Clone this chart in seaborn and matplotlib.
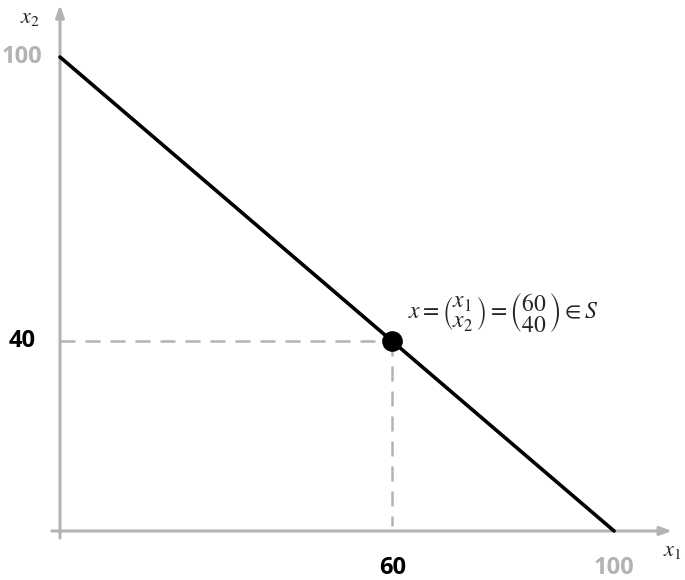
import matplotlib
matplotlib.use("Agg")
import matplotlib.pyplot as plt
import seaborn as sns
import pandas as pd

# data
line_x = [0, 100]
line_y = [100, 0]
point_x = [60]
point_y = [40]
tick_vals = [100, 40, 60, 100]

sns.set_style("white")
plt.rcParams['mathtext.fontset'] = 'stix'

fig = plt.figure(figsize=(6.85, 5.8), dpi=100)
ax = fig.add_axes([0, 0, 1, 1])
ax.set_xlim(-10.83, 112.8)
ax.set_ylim(-10.34, 112.03)
ax.axis('off')

gray = '#b3b3b3'
# axes arrows
ax.annotate('', xy=(110.5, 0), xytext=(-1.5, 0),
            arrowprops=dict(arrowstyle='-|>,head_length=0.7,head_width=0.25', color=gray, lw=2.2, shrinkA=0, shrinkB=0))
ax.annotate('', xy=(0, 111), xytext=(0, -1.5),
            arrowprops=dict(arrowstyle='-|>,head_length=0.7,head_width=0.25', color=gray, lw=2.2, shrinkA=0, shrinkB=0))

# dashed guide lines
ax.plot([0, point_x[0]], [point_y[0], point_y[0]], color=gray, lw=1.8, ls=(0, (6, 4)), zorder=1)
ax.plot([point_x[0], point_x[0]], [point_y[0], 1], color=gray, lw=1.8, ls=(0, (6, 4)), zorder=1)

df = pd.DataFrame({'x': line_x, 'y': line_y})
sns.lineplot(data=df, x='x', y='y', ax=ax, color='black', lw=2.6, zorder=3)
sns.scatterplot(x=point_x, y=point_y, ax=ax, color='black', s=190, zorder=4, edgecolor='black')

fp = dict(family='Open Sans', fontweight='bold', fontsize=17)
ax.text(-6.9, 100, str(tick_vals[0]), color=gray, ha='center', va='center', **fp)
ax.text(-6.9, 40, str(tick_vals[1]), color='black', ha='center', va='center', **fp)
ax.text(60, -7.8, str(tick_vals[2]), color='black', ha='center', va='center', **fp)
ax.text(100, -7.8, str(tick_vals[3]), color=gray, ha='center', va='center', **fp)

ax.text(110.5, -4.3, r'$x_1$', fontsize=16, ha='center', va='center')
ax.text(-5.4, 108.3, r'$x_2$', fontsize=16, ha='center', va='center')

ax.text(62.8, 46, r'$x = \genfrac{(}{)}{0}{0}{x_1}{x_2} = \genfrac{(}{)}{0}{0}{60}{40} \in S$',
        fontsize=17, ha='left', va='center')

fig.savefig('out.png', dpi=100)
